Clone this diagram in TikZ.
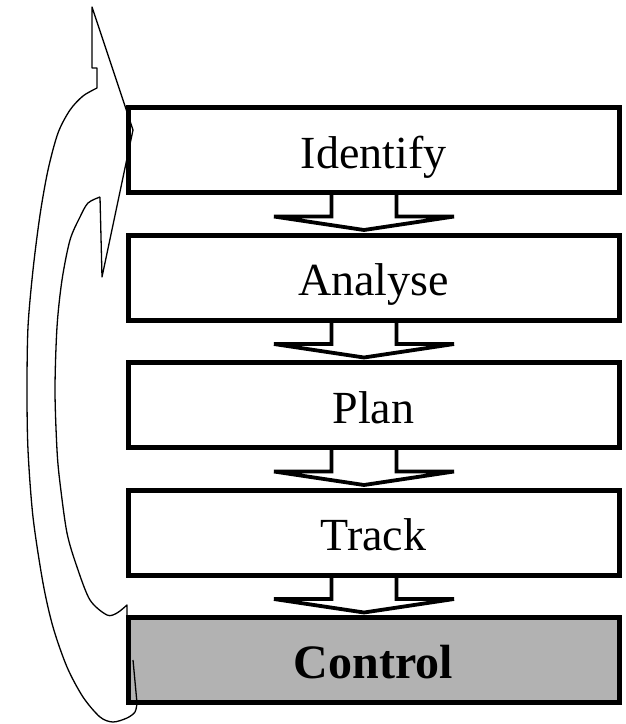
\documentclass[tikz,border=0pt]{standalone}
\usepackage{fontspec}
\setmainfont{Liberation Serif}
\usetikzlibrary{calc,positioning}

\begin{document}
\begin{tikzpicture}[x=1pt, y=-1pt]
\tikzstyle{stage}=[rectangle, draw, line width=5pt, fill=white,
                   minimum width=491pt, minimum height=85pt, inner sep=0pt,
                   text height=40pt, text depth=4pt,
                   font=\fontsize{46}{50}\selectfont]
\tikzstyle{flow}=[line width=3.8pt, line join=miter]
\tikzstyle{back}=[line width=1.3pt, line join=round]
\useasboundingbox (0,0) rectangle (625,724);
\node[stage] (I) at (373.5,150) {Identify};
\node[stage] (A) at (373.5,277.5) {Analyse};
\node[stage] (P) at (373.5,405) {Plan};
\node[stage] (T) at (373.5,532.5) {Track};
\node[stage, fill=black!30, font=\fontsize{48}{52}\selectfont\bfseries] (C) at (373.5,660) {Control};
% block arrows between the stages
\draw[flow] ($(I.south)+(-42,0)$) -- ++(0,21.5) -- ++(-57.5,0) -- ($(A.north)+(-9.5,-2.5)$)
  -- ($(I.south)+(80.5,21.5)$) -- ++(-57.5,0) -- ++(0,-21.5);
\draw[flow] ($(A.south)+(-42,0)$) -- ++(0,21.5) -- ++(-57.5,0) -- ($(P.north)+(-9.5,-2.5)$)
  -- ($(A.south)+(80.5,21.5)$) -- ++(-57.5,0) -- ++(0,-21.5);
\draw[flow] ($(P.south)+(-42,0)$) -- ++(0,21.5) -- ++(-57.5,0) -- ($(T.north)+(-9.5,-2.5)$)
  -- ($(P.south)+(80.5,21.5)$) -- ++(-57.5,0) -- ++(0,-21.5);
\draw[flow] ($(T.south)+(-42,0)$) -- ++(0,21.5) -- ++(-57.5,0) -- ($(C.north)+(-9.5,-2.5)$)
  -- ($(T.south)+(80.5,21.5)$) -- ++(-57.5,0) -- ++(0,-21.5);
% curved arrow back to the top
\draw[back] (133,660) -- (137,703)
  plot[smooth] coordinates {(137,703) (135,712) (127,718) (113,722) (100,717) (83,697)
    (67,667) (53,627) (43,583) (33,517) (28,450) (27,390) (28,327) (33,270) (40,215)
    (48,170) (58,133) (70,110) (83,96) (97,88)}
  -- (97,68) -- (92,68) -- (92,7) -- (133,130) -- (102,277) -- (100,197)
  plot[smooth] coordinates {(100,197) (88,203) (80,217) (70,240) (62,280) (57,327)
    (55,390) (57,450) (60,483) (67,533) (77,567) (90,600) (107,615) (117,613) (127,605)}
  -- (127,617);
\end{tikzpicture}
\end{document}
